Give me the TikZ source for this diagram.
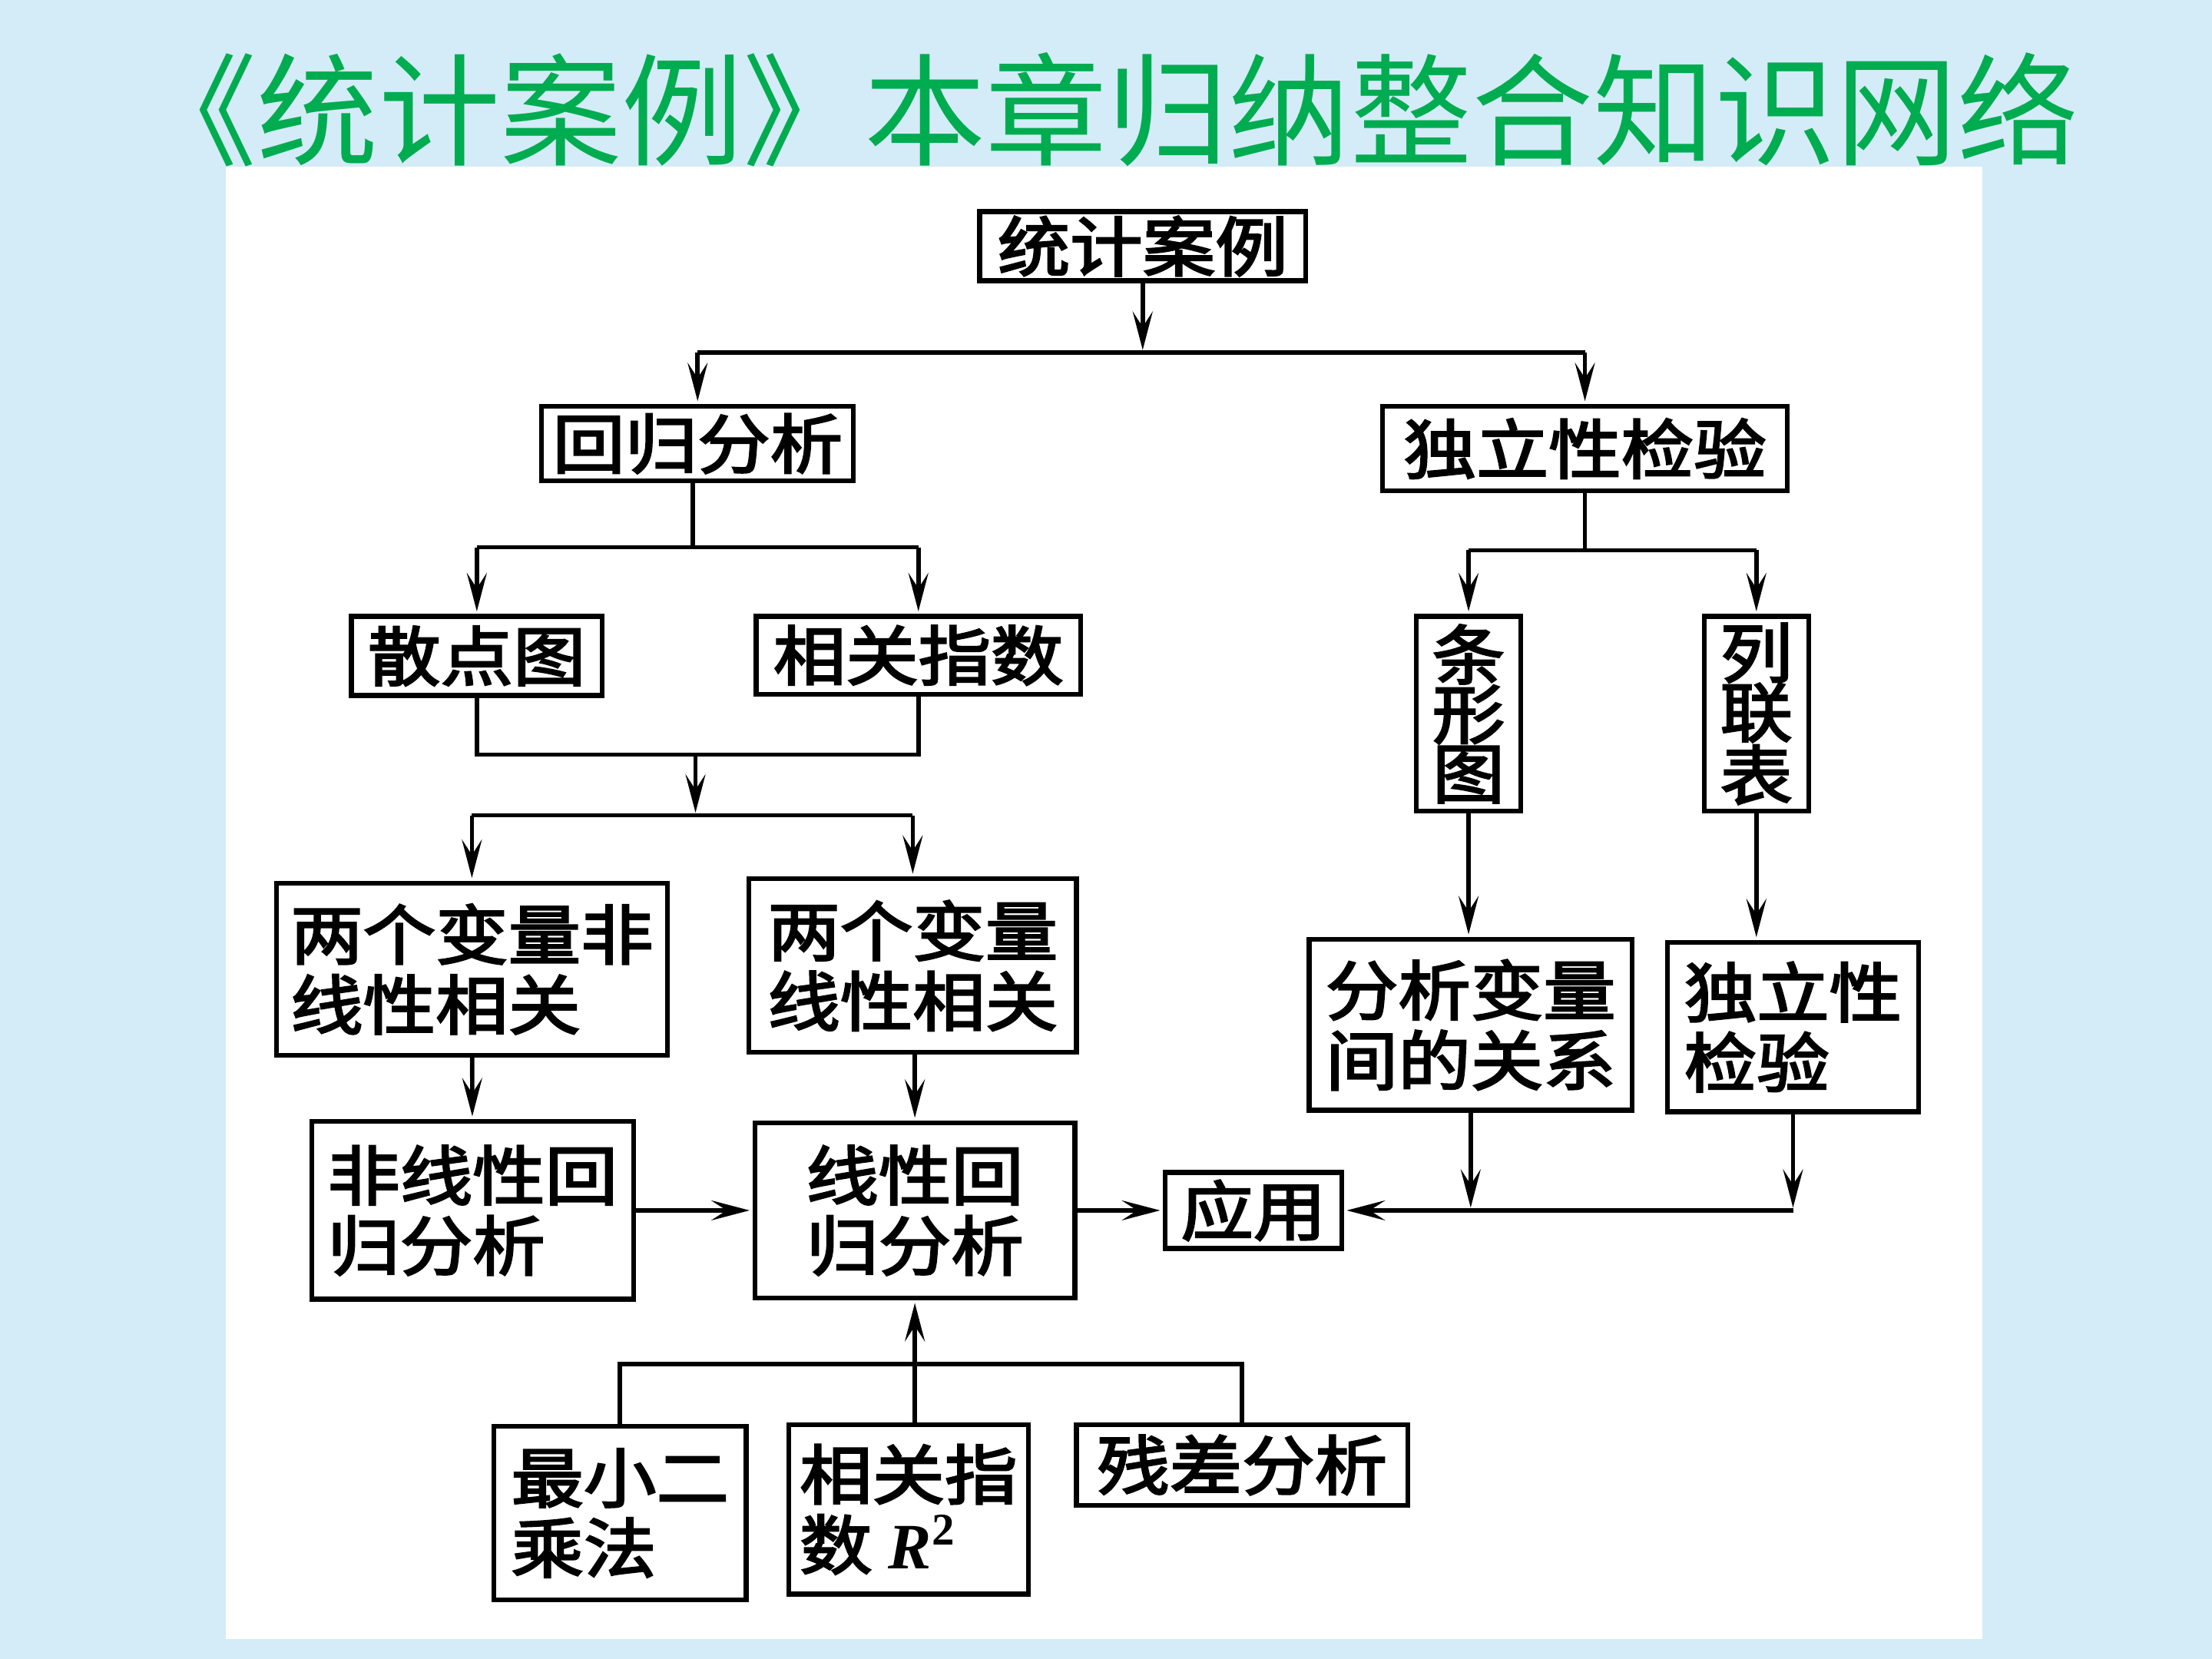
\documentclass[tikz,border=0pt]{standalone}
\usepackage{fontspec}
\usepackage{tikz}
\usetikzlibrary{arrows.meta}
\newfontfamily\boxfont[FakeStretch=1.12, FakeBold=3]{Noto Sans CJK SC}
\newfontfamily\titlefont{Noto Sans CJK SC}
\newfontfamily\timesfont{Liberation Serif}
\definecolor{bgblue}{RGB}{212,235,248}
\definecolor{titlegreen}{RGB}{0,172,80}
\newcommand{\upx}{0.018367cm}

\begin{document}
\begin{tikzpicture}[x=\upx,y=-\upx]
\tikzstyle{every node} = [font = \boxfont\fontsize{24}{26}\selectfont]
\tikzstyle{box} = [draw, line width=1.8pt, inner sep=0pt, align=left]
\tikzstyle{tall} = [box, align=center, font = \boxfont\fontsize{24}{22}\selectfont]
\tikzstyle{link} = [line width=1.6pt]
\tikzstyle{arr} = [link, -{Stealth[length=5mm,width=2.6mm,inset=2mm]}, shorten >=1pt]

% background, title and white panel
\fill[bgblue] (0,0) rectangle (1568,1176);
\node[font = \titlefont\fontsize{45}{45}\selectfont, text=titlegreen] (title) at (785,78) {《统计案例》本章归纳整合知识网络};
\fill[white] (160,118) rectangle (1405,1162);
\useasboundingbox (0,0) rectangle (1568,1176);

% boxes
\node[box, minimum width=231*\upx, minimum height=49*\upx] (tjal) at (810,174.5) {统计案例};
\node[box, minimum width=221*\upx, minimum height=53*\upx] (hgfx) at (494.5,314.5) {回归分析};
\node[box, minimum width=287*\upx, minimum height=60*\upx] (dlxjy) at (1123.5,318) {独立性检验};
\node[box, minimum width=178*\upx, minimum height=56*\upx] (sdt) at (338,465) {散点图};
\node[box, minimum width=230*\upx, minimum height=55*\upx] (xgzs) at (651,464.5) {相关指数};
\node[tall, minimum width=74*\upx, minimum height=138*\upx] (txt) at (1041,506) {条\\形\\图};
\node[tall, minimum width=74*\upx, minimum height=138*\upx] (llb) at (1245,506) {列\\联\\表};
\node[box, minimum width=277*\upx, minimum height=122*\upx] (fxxxg) at (334.5,687) {两个变量非\\线性相关};
\node[box, minimum width=232*\upx, minimum height=123*\upx] (xxxg) at (647,684.5) {两个变量\\线性相关};
\node[box, minimum width=229*\upx, minimum height=121*\upx] (fxbl) at (1042.5,726.5) {分析变量\\间的关系};
\node[box, minimum width=178*\upx, minimum height=120*\upx] (dlx) at (1271,728) {独立性\\检验};
\node[box, minimum width=228*\upx, minimum height=126*\upx] (fxxhg) at (335,858) {非线性回\\归分析};
\node[box, minimum width=227*\upx, minimum height=124*\upx] (xxhg) at (648.5,858) {线性回\\归分析};
\node[box, minimum width=125*\upx, minimum height=54*\upx] (yy) at (888.5,858) {应用};
\node[box, minimum width=179*\upx, minimum height=123*\upx] (zxec) at (439.5,1072.5) {最小二\\乘法};
\node[box, minimum width=170*\upx, minimum height=120*\upx] (xgr) at (644,1070) {相关指\\数 {\timesfont\bfseries\itshape R}{\timesfont\bfseries\textsuperscript{2}}};
\node[box, minimum width=235*\upx, minimum height=57*\upx] (ccfx) at (880.5,1038.5) {残差分析};

% top split
\coordinate (s1) at (810,250);
\draw[arr] (tjal) -- (s1);
\draw[link] (hgfx |- s1) -- (dlxjy |- s1);
\draw[arr] (hgfx |- s1) -- (hgfx);
\draw[arr] (dlxjy |- s1) -- (dlxjy);

% regression branch
\coordinate (s2) at (491,388);
\draw[link] (hgfx.south -| s2) -- (s2);
\draw[link] (sdt |- s2) -- (xgzs |- s2);
\draw[arr] (sdt |- s2) -- (sdt);
\draw[arr] (xgzs |- s2) -- (xgzs);
\coordinate (s3) at (493,535);
\coordinate (s4) at (493,578);
\draw[link] (sdt) -- (sdt |- s3) -- (xgzs |- s3) -- (xgzs);
\draw[arr] (s3) -- (s4);
\draw[link] (fxxxg |- s4) -- (xxxg |- s4);
\draw[arr] (fxxxg |- s4) -- (fxxxg);
\draw[arr] (xxxg |- s4) -- (xxxg);
\draw[arr] (fxxxg) -- (fxxhg);
\draw[arr] (xxhg |- xxxg.south) -- (xxhg);
\draw[arr] (fxxhg) -- (xxhg);
\draw[arr] (xxhg) -- (yy);

% independence branch
\coordinate (s5) at (1123,390);
\draw[link] (dlxjy) -- (dlxjy |- s5);
\draw[link] (txt |- s5) -- (llb |- s5);
\draw[arr] (txt |- s5) -- (txt);
\draw[arr] (llb |- s5) -- (llb);
\draw[arr] (txt) -- (txt |- fxbl.north);
\draw[arr] (llb) -- (llb |- dlx.north);
\draw[arr] (fxbl) -- (fxbl |- yy);
\draw[arr] (dlx) -- (dlx |- yy);
\draw[arr] (dlx |- yy) -- (yy);

% methods below
\coordinate (s7) at (650,967);
\draw[link] (zxec) -- (zxec |- s7) -- (ccfx |- s7) -- (ccfx);
\draw[arr] (xxhg |- xgr.north) -- (xxhg);
\end{tikzpicture}
\end{document}
